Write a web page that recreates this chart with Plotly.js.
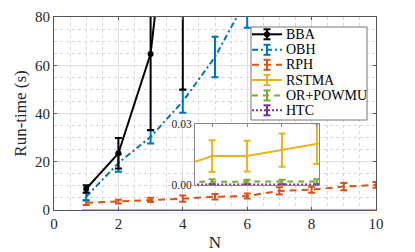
<!DOCTYPE html>
<html>
<head>
<meta charset="utf-8">
<script src="https://cdn.plot.ly/plotly-3.0.1.min.js"></script>
<style>html,body{margin:0;padding:0;background:#fff;}#chart{width:415px;height:252px;}</style>
</head>
<body>
<div id="chart"></div>
<script>
// ---- data ----
const N = [1, 2, 3, 4, 5, 6, 7, 8, 9, 10];
const seriesNames = ['BBA', 'OBH', 'RPH', 'RSTMA', 'OR+POWMU', 'HTC'];
const bba      = [8.8, 23.5, 64.7, 182, 420, 900, 1800, 3500, 6500, 12000];
const bbaErr   = [1.5, 6.3, 31.5, 132, 300, 600, 1200, 2400, 4500, 8000];
const obh      = [5.5, 19.5, 30.3, 45.0, 63.4, 88, 118, 155, 200, 255];
const obhErr   = [1.5, 3.6, 2.7, 4.7, 8.4, 12.5, 15, 20, 25, 30];
const rph      = [3.0, 3.5, 4.2, 4.7, 5.5, 5.8, 7.9, 8.4, 9.7, 10.4];
const rphErr   = [0.9, 0.8, 0.9, 1.3, 1.1, 1.0, 1.5, 1.2, 1.5, 1.2];
const rstma    = [0.0085, 0.0141, 0.0141, 0.0170, 0.0201, 0.023, 0.026, 0.028, 0.031, 0.034];
const rstmaErr = [0.0060, 0.0077, 0.0075, 0.0081, 0.0099, 0.010, 0.011, 0.012, 0.013, 0.014];
const orp      = [0.0016, 0.0017, 0.0016, 0.0016, 0.0017, 0.0016, 0.0016, 0.0017, 0.0016, 0.0017];
const orpErr   = [0.0010, 0.0011, 0.0010, 0.0010, 0.0011, 0.0010, 0.0010, 0.0011, 0.0010, 0.0011];
const htc      = [0.0002, 0.0002, 0.0002, 0.0002, 0.0002, 0.0002, 0.0002, 0.0002, 0.0002, 0.0002];
const htcErr   = [0.0001, 0.0001, 0.0001, 0.0001, 0.0001, 0.0001, 0.0001, 0.0001, 0.0001, 0.0001];
const xTicks = [0, 2, 4, 6, 8, 10];
const yTicks = [0, 20, 40, 60, 80];
const insetTicks = [0, 0.03];
const insetTickText = ['0.00', '0.03'];

// ---- styles ----
const colors = ['#000000', '#0072BD', '#D95319', '#EDB120', '#77AC30', '#7E2F8E'];
const dashes = ['solid', '6px,3px,2px,3px', '7px,5px', 'solid', '6px,5px', '2px,2px'];
const serif = 'Liberation Serif';

function tr(y, e, i, xa, ya, showMarker) {
  return {
    x: N, y: y, type: 'scatter', mode: showMarker ? 'lines+markers' : 'lines',
    name: seriesNames[i], xaxis: xa, yaxis: ya, showlegend: false,
    line: {color: colors[i], width: 2, dash: dashes[i]},
    marker: {color: colors[i], size: 6},
    error_y: {type: 'data', array: e, visible: true, color: colors[i], thickness: 2, width: 3.5}
  };
}
const data = [
  tr(htc, htcErr, 5, 'x', 'y'),
  tr(orp, orpErr, 4, 'x', 'y'),
  tr(rstma, rstmaErr, 3, 'x', 'y'),
  tr(rph, rphErr, 2, 'x', 'y'),
  tr(obh, obhErr, 1, 'x', 'y'),
  tr(bba, bbaErr, 0, 'x', 'y', true),
  tr(rstma, rstmaErr, 3, 'x2', 'y2'),
  tr(orp, orpErr, 4, 'x2', 'y2'),
  tr(htc, htcErr, 5, 'x2', 'y2')
];

// ---- layout helpers (pixel -> paper) ----
const L = 54, T = 17, W = 322, H = 193;
const px = v => (v - L) / W;
const py = v => (T + H - v) / H;

const shapes = [
  {type: 'rect', xref: 'x2 domain', yref: 'y2 domain', x0: 0, x1: 1, y0: 0, y1: 1,
   layer: 'below', fillcolor: '#ffffff', line: {width: 0}},
  {type: 'rect', xref: 'paper', yref: 'paper', x0: px(251), x1: px(367), y0: py(120), y1: py(27),
   layer: 'above', fillcolor: '#ffffff', line: {color: '#777777', width: 1}}
];
const annotations = [];
const legY = [34.3, 49.8, 64.8, 80.0, 95.4, 110.3];
seriesNames.forEach((nm, i) => {
  const yy = legY[i];
  shapes.push({type: 'line', xref: 'paper', yref: 'paper', x0: px(252), x1: px(282), y0: py(yy), y1: py(yy),
    layer: 'above', line: {color: colors[i], width: 2, dash: dashes[i]}});
  shapes.push({type: 'line', xref: 'paper', yref: 'paper', x0: px(267), x1: px(267), y0: py(yy - 5), y1: py(yy + 5),
    layer: 'above', line: {color: colors[i], width: 2}});
  [yy - 5, yy + 5].forEach(cy => shapes.push({type: 'line', xref: 'paper', yref: 'paper',
    x0: px(263.5), x1: px(270.5), y0: py(cy), y1: py(cy), layer: 'above', line: {color: colors[i], width: 2}}));
  if (i === 0) shapes.push({type: 'circle', xref: 'paper', yref: 'paper', x0: px(264), x1: px(270),
    y0: py(yy + 3), y1: py(yy - 3), layer: 'above', fillcolor: colors[i], line: {color: colors[i], width: 0}});
  annotations.push({xref: 'paper', yref: 'paper', x: px(284), y: py(yy), xanchor: 'left', yanchor: 'middle',
    text: nm, showarrow: false, font: {family: serif, size: 14, color: '#000'}});
});

const axCommon = {showline: true, mirror: 'ticks', linecolor: '#555555', linewidth: 1,
  ticks: 'inside', ticklen: 3, tickcolor: '#555555', zeroline: false,
  tickfont: {family: serif, size: 15, color: '#262626'}};

const layout = {
  width: 415, height: 252,
  margin: {l: L, r: 415 - L - W, t: T, b: 252 - T - H, pad: 0},
  paper_bgcolor: '#ffffff', plot_bgcolor: '#ffffff',
  font: {family: serif},
  showlegend: false,
  xaxis: Object.assign({}, axCommon, {
    range: [0, 10], tickvals: xTicks, showgrid: true, gridcolor: '#dedede', gridwidth: 1,
    minor: {dtick: 0.5, showgrid: true, gridcolor: '#d6d6d6', griddash: 'dot', ticks: ''},
    title: {text: 'N', font: {family: serif, size: 17, color: '#262626'}, standoff: 5}
  }),
  yaxis: Object.assign({}, axCommon, {
    range: [0, 80], tickvals: yTicks, showgrid: true, gridcolor: '#dedede', gridwidth: 1,
    minor: {dtick: 5, showgrid: true, gridcolor: '#d6d6d6', griddash: 'dot', ticks: ''},
    title: {text: 'Run-time (s)', font: {family: serif, size: 17, color: '#262626'}, standoff: 4}
  }),
  xaxis2: Object.assign({}, axCommon, {
    domain: [px(195), px(319)], anchor: 'y2', range: [1.51, 5.06], tickvals: [2, 3, 4, 5],
    showticklabels: false, showgrid: false, linecolor: '#888888', tickcolor: '#888888'
  }),
  yaxis2: Object.assign({}, axCommon, {
    domain: [py(185), py(123.5)], anchor: 'x2', range: [0, 0.03], tickvals: insetTicks,
    ticktext: insetTickText, showgrid: false, linecolor: '#888888', tickcolor: '#888888',
    tickfont: {family: serif, size: 11.5, color: '#262626'}
  }),
  shapes: shapes,
  annotations: annotations
};

Plotly.newPlot('chart', data, layout, {displayModeBar: false, staticPlot: true});
</script>
</body>
</html>
